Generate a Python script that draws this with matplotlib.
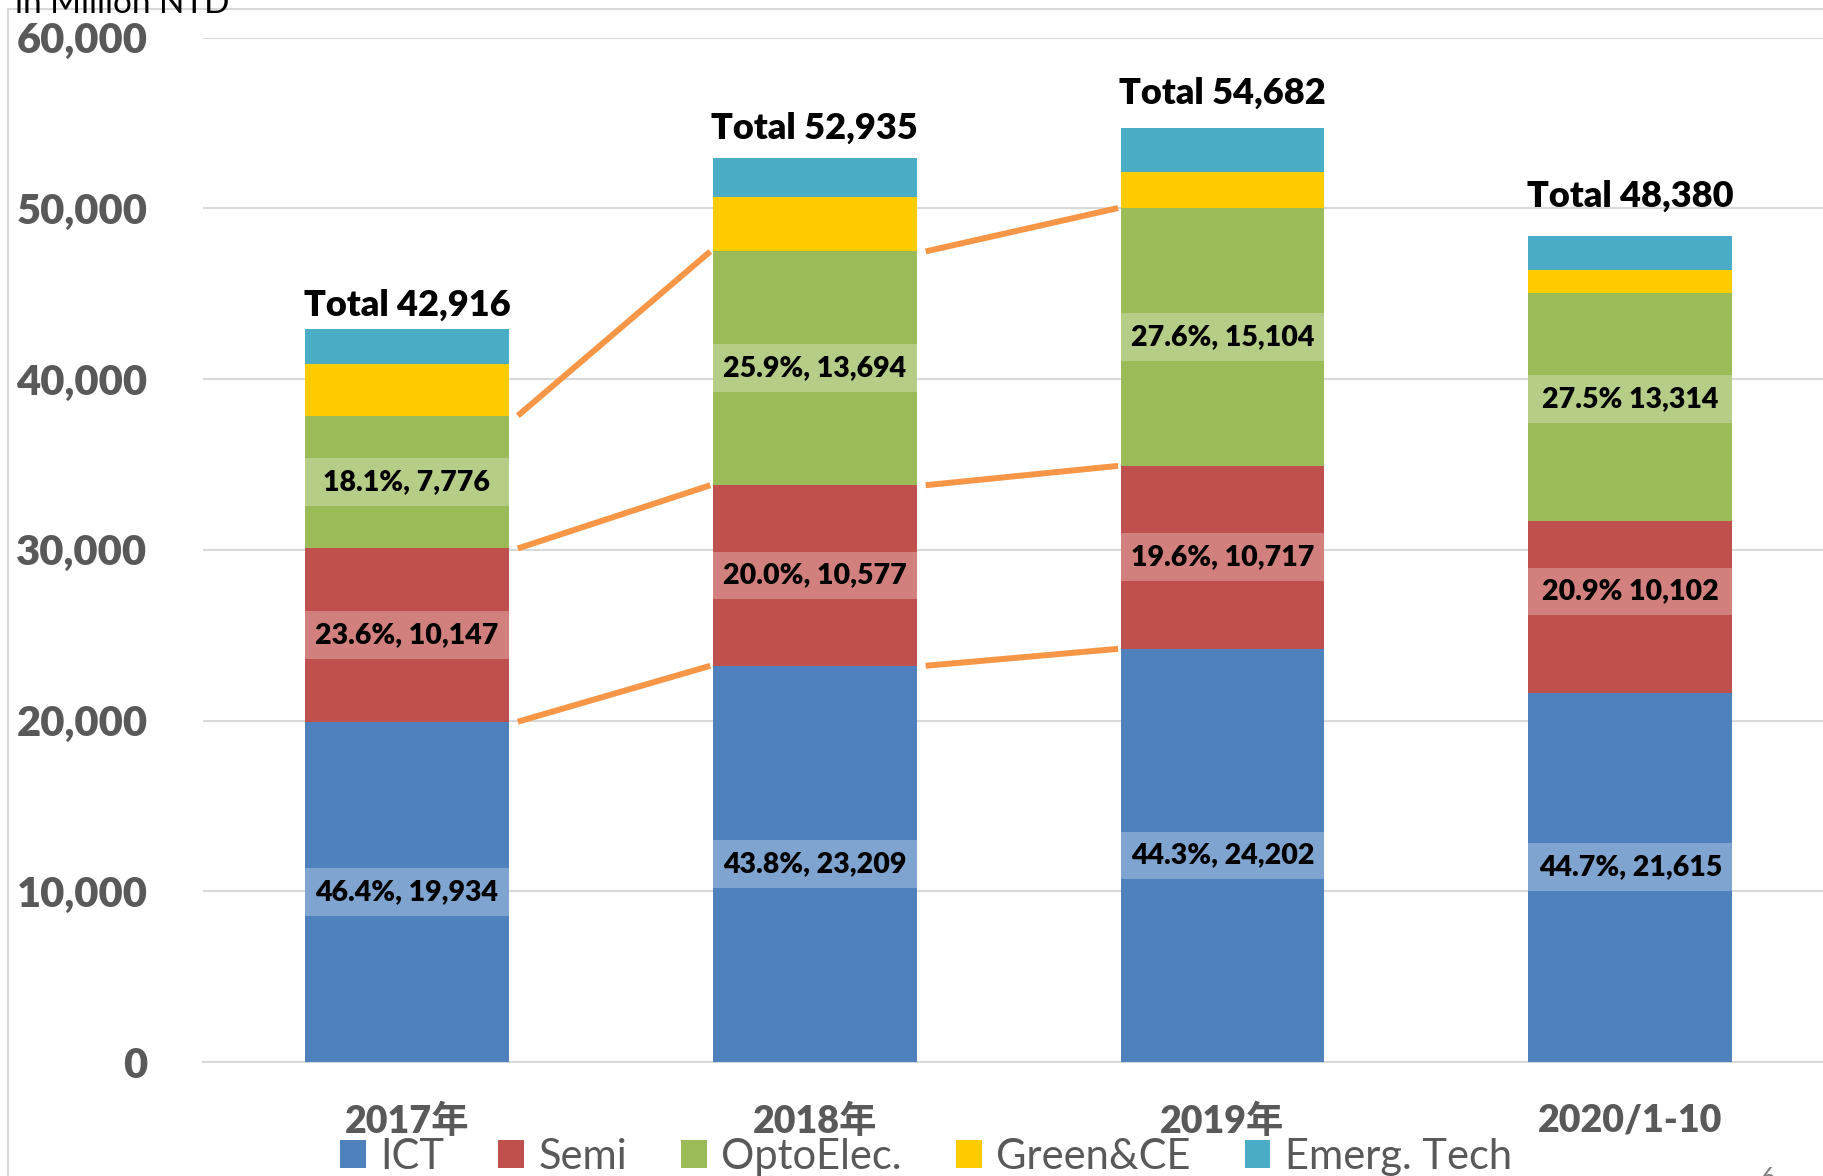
import matplotlib
matplotlib.use("Agg")
import matplotlib.pyplot as plt
from matplotlib.patches import Rectangle
import numpy as np

plt.rcParams['font.family'] = ['Lato', 'Noto Sans CJK SC', 'DejaVu Sans']

# ---------------- data ----------------
categories = ["2017年", "2018年", "2019年", "2020/1-10"]
series_names = ["ICT", "Semi", "OptoElec.", "Green&CE", "Emerg. Tech"]
ict = [19934, 23209, 24202, 21615]
semi = [10147, 10577, 10717, 10102]
opto = [7776, 13694, 15104, 13314]
green = [3033, 3201, 2089, 1347]
emerg = [2026, 2254, 2570, 2002]
totals = [42916, 52935, 54682, 48380]
yticks = [0, 10000, 20000, 30000, 40000, 50000, 60000]
# separator used in data labels (ICT, Semi, Opto) per category
label_seps = [[", ", ", ", ", "], [", ", ", ", ", "], [", ", ", ", ", "], [", ", " ", " "]]

# ---------------- style ----------------
colors = ["#4F81BD", "#C0504D", "#9BBB59", "#FFCC00", "#4BACC6"]
line_color = "#F79646"
grid_color = "#D9D9D9"
text_gray = "#595959"
total_offsets_pt = [10, 14, 18, 21]
label_offsets = [[0, 0, 0], [0, 0, 0], [0, 0, 0], [600, 900, 450]]  # vertical nudges of labels
n_connected = 3  # connector lines drawn across the first three categories

W, H = 1824, 1176
fig = plt.figure(figsize=(W / 100, H / 100), dpi=100)
ax = fig.add_axes([203 / W, 1 - 1062 / H, 1 - 203 / W, (1062 - 37.7) / H])

series = [ict, semi, opto, green, emerg]
x = np.arange(len(categories))
bw = 0.5
bottom = np.zeros(len(categories))
bottoms = []
for vals, col, name in zip(series, colors, series_names):
    bottoms.append(bottom.copy())
    ax.bar(x, vals, bw, bottom=bottom, color=col, label=name, zorder=3, linewidth=0)
    bottom = bottom + np.array(vals)

# connector lines at tops of ICT, Semi, Opto
for k in range(3):
    tops = bottoms[k] + np.array(series[k])
    for i in range(n_connected - 1):
        ax.plot([x[i] + bw / 2 + 0.022, x[i + 1] - bw / 2 - 0.006], [tops[i], tops[i + 1]],
                color=line_color, lw=4.3, solid_capstyle='butt', zorder=4)

# data labels with light boxes
box_h = 2800
for k in range(3):
    for i in range(len(categories)):
        v = series[k][i]
        mid = bottoms[k][i] + v / 2 + label_offsets[i][k]
        ax.add_patch(Rectangle((x[i] - bw / 2, mid - box_h / 2), bw, box_h,
                               facecolor="white", alpha=0.28, linewidth=0, zorder=4))
        pct = v / totals[i] * 100
        txt = f"{pct:.1f}%{label_seps[i][k]}{v:,}"
        ax.text(x[i], mid, txt, ha="center", va="center", fontsize=20.5,
                fontweight="heavy", color="black", zorder=5)

# totals
for i in range(len(categories)):
    ax.annotate(f"Total {totals[i]:,}", (x[i], bottom[i]), xytext=(0, total_offsets_pt[i]),
                textcoords="offset points", ha="center", va="baseline",
                fontsize=26, fontweight="heavy", color="black", zorder=5)

ax.set_ylim(0, 60000)
ax.set_xlim(-0.5, 3.475)
ax.set_yticks(yticks)
ax.set_yticklabels([f"{t:,}" for t in yticks], fontsize=30, fontweight="heavy", color=text_gray)
ax.set_xticks(x)
ax.set_xticklabels(categories, fontsize=27, fontweight="heavy", color=text_gray)
ax.tick_params(axis="y", length=0, pad=40)
ax.tick_params(axis="x", length=0, pad=30)
ax.grid(axis="y", color=grid_color, lw=1.5, zorder=0)
ax.set_axisbelow(True)
for s in ["top", "right", "left"]:
    ax.spines[s].set_visible(False)
ax.spines["bottom"].set_color(grid_color)
ax.spines["bottom"].set_linewidth(1.5)
ax.spines["bottom"].set_zorder(2)

# legend
leg = fig.legend(loc="center", bbox_to_anchor=(926 / W, 1 - 1157 / H), ncol=5, frameon=False,
                 fontsize=30, handlelength=0.62, handleheight=0.65, handletextpad=0.34,
                 columnspacing=1.3, borderaxespad=0, borderpad=0)
for t in leg.get_texts():
    t.set_color(text_gray)

# chart frame (left + top visible)
fig.patches.append(Rectangle((8 / W, -0.05), 1.1, 1 - 9 / H + 0.05, transform=fig.transFigure,
                             fill=False, edgecolor=grid_color, lw=1.5, zorder=0))

fig.text(15 / W, 1 - 13 / H, "in Million NTD", fontsize=24, color="black", va="baseline", ha="left")
fig.text(1768 / W, 1 - 1185 / H, "6", fontsize=18, color="#7F7F7F", va="baseline", ha="center")

fig.savefig("out.png", dpi=100)
